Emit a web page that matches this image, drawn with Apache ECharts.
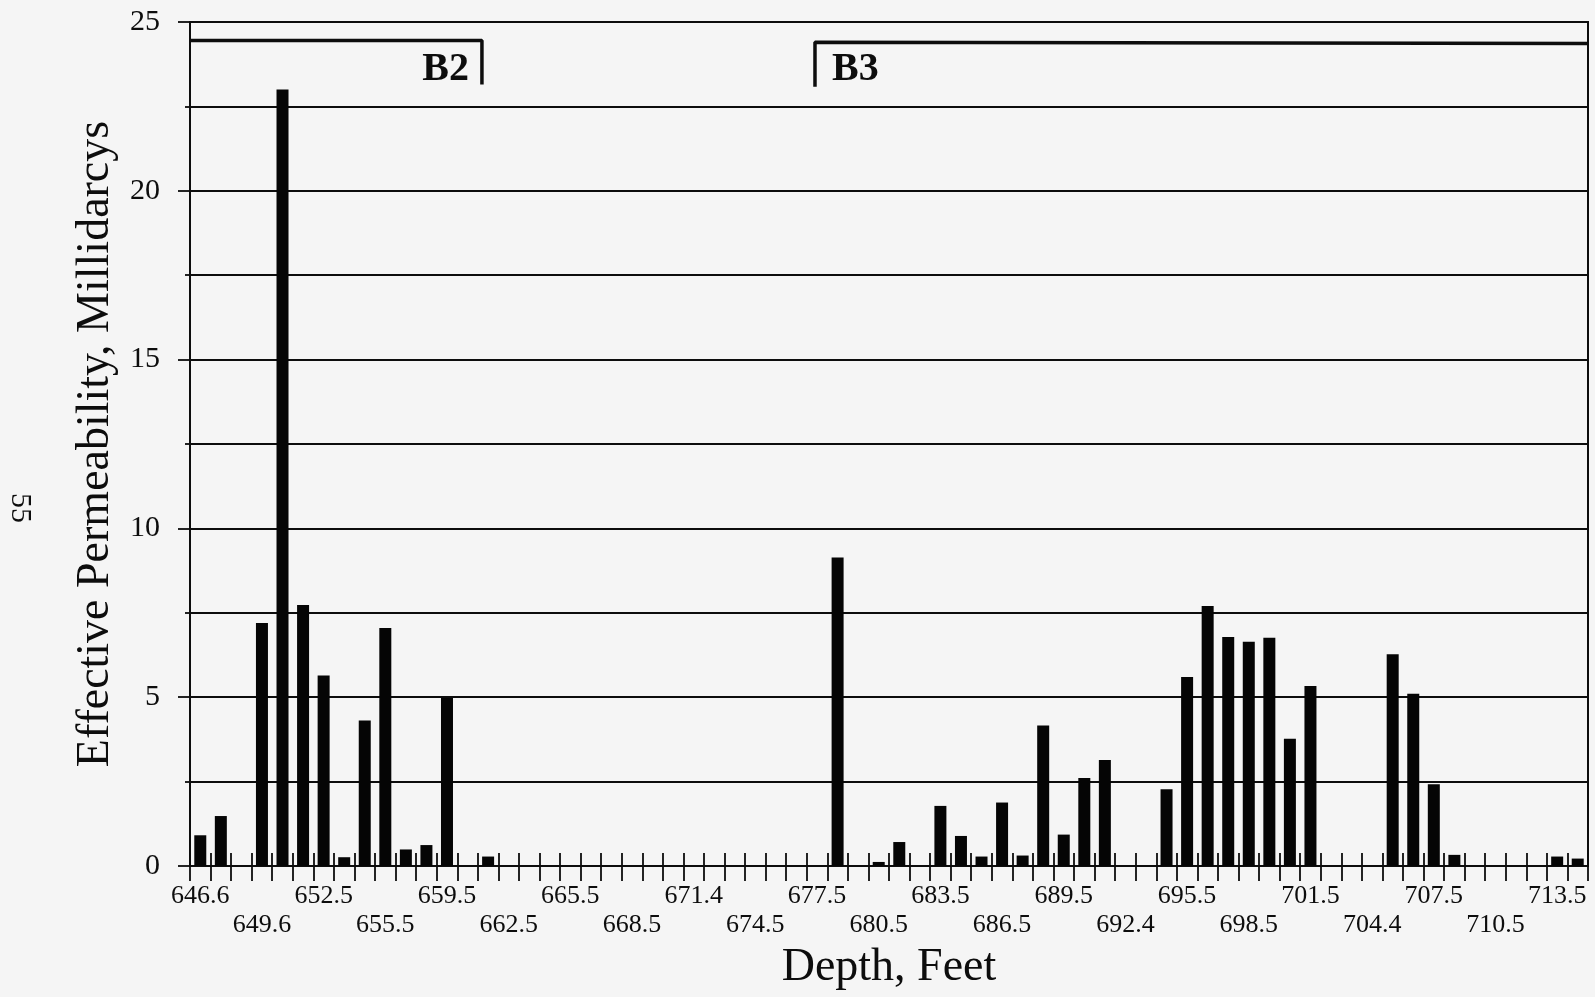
<!DOCTYPE html>
<html>
<head>
<meta charset="utf-8">
<script src="https://cdn.jsdelivr.net/npm/echarts@6/dist/echarts.min.js"></script>
<style>
  html, body { margin: 0; padding: 0; background: #f5f5f5; }
  #chart { width: 1595px; height: 997px; }
</style>
</head>
<body>
<div id="chart"></div>
<script>
// Depth (feet) printed under every third sample slot
const depthLabels = [
  '646.6', '649.6', '652.5', '655.5', '659.5', '662.5', '665.5', '668.5',
  '671.4', '674.5', '677.5', '680.5', '683.5', '686.5', '689.5', '692.4',
  '695.5', '698.5', '701.5', '704.4', '707.5', '710.5', '713.5'
];

// Effective permeability (millidarcys), one value per sample slot
const permeability = [
  0.91, 1.48, 0, 7.20, 23.0, 7.73, 5.64, 0.26, 4.31, 7.05,
  0.49, 0.62, 4.98, 0, 0.28,
  0, 0, 0, 0, 0, 0, 0, 0, 0, 0, 0, 0, 0, 0, 0, 0,
  9.14, 0, 0.12, 0.71, 0, 1.78, 0.89, 0.28, 1.88, 0.31,
  4.16, 0.93, 2.61, 3.14, 0, 0, 2.27, 5.60, 7.70, 6.78,
  6.64, 6.76, 3.77, 5.33, 0, 0, 0, 6.27, 5.10, 2.42,
  0.33, 0, 0, 0, 0, 0.28, 0.22
];

// Zone brackets along the top, in sample-slot units (null = runs past the edge)
const zones = [
  { name: 'B2', start: null, end: 14.2 },
  { name: 'B3', start: 30.4, end: null }
];

const slotIndex = permeability.map((_, i) => String(i));
const slotCount = permeability.length;

const serif = 'Liberation Serif';
const ink = '#0d0d0d';

// bracket polylines: horizontal run with a drop at the inner boundary
const bracketSeries = zones.map((z, k) => {
  const top = k === 0 ? 24.45 : 24.36;
  const drop = k === 0 ? 23.15 : 23.08;
  const pts = [];
  if (z.start === null) {
    pts.push([0, top], [z.end, top], [z.end, drop]);
  } else {
    pts.push([z.start, drop], [z.start, top + 0.04], [z.end === null ? slotCount : z.end, top]);
  }
  return {
    type: 'line',
    xAxisIndex: 2,
    data: pts,
    symbol: 'none',
    silent: true,
    lineStyle: { color: ink, width: 3.5 },
    z: 5
  };
});

const zoneLabelSeries = {
  type: 'scatter',
  xAxisIndex: 2,
  symbolSize: 0,
  silent: true,
  z: 6,
  itemStyle: { opacity: 1 },
  data: zones.map(z => ({
    name: z.name,
    value: [z.start === null ? z.end : z.start, 23.58],
    label: {
      show: true,
      formatter: '{b}',
      position: z.start === null ? 'left' : 'right',
      distance: z.start === null ? 13 : 17,
      fontFamily: serif,
      fontWeight: 'bold',
      fontSize: 40,
      color: ink
    }
  }))
};

const chart = echarts.init(document.getElementById('chart'), null, { renderer: 'canvas' });

chart.setOption({
  backgroundColor: '#f5f5f5',
  animation: false,
  grid: {
    left: 190, right: 7, top: 22, bottom: 131,
    show: true, borderColor: ink, borderWidth: 2,
    backgroundColor: 'transparent',
    outerBoundsMode: 'none'
  },
  xAxis: [
    {
      type: 'category',
      data: slotIndex,
      boundaryGap: true,
      name: 'Depth, Feet',
      nameLocation: 'middle',
      nameGap: 75,
      nameTextStyle: { fontFamily: serif, fontSize: 46, color: ink },
      axisLine: { show: true, lineStyle: { color: ink, width: 2 } },
      axisTick: { show: true, interval: 0, length: 15, lineStyle: { color: ink, width: 1.8 } },
      axisLabel: {
        interval: (i) => i % 3 === 0,
        formatter: (v, i) => {
          const k = Math.round(i / 3);
          return (k % 2 === 1 ? '\n' : '') + depthLabels[k];
        },
        fontFamily: serif,
        fontSize: 26,
        lineHeight: 29,
        margin: 16,
        color: ink
      },
      splitLine: { show: false }
    },
    {
      // upward half of the crossing slot ticks
      type: 'category',
      data: slotIndex,
      position: 'bottom',
      boundaryGap: true,
      axisLine: { show: false },
      axisTick: { show: true, inside: true, interval: 0, length: 13, lineStyle: { color: ink, width: 1.8 } },
      axisLabel: { show: false },
      splitLine: { show: false }
    },
    {
      type: 'value',
      min: 0,
      max: slotCount,
      show: false
    }
  ],
  yAxis: {
    type: 'value',
    min: 0,
    max: 25,
    interval: 5,
    name: 'Effective Permeability, Millidarcys',
    nameLocation: 'middle',
    nameGap: 70,
    nameTextStyle: { fontFamily: serif, fontSize: 46, color: ink },
    axisLine: { show: true, lineStyle: { color: ink, width: 2 } },
    axisTick: { show: true, length: 12, lineStyle: { color: ink, width: 1.8 } },
    minorTick: { show: true, splitNumber: 2, length: 5, lineStyle: { color: ink, width: 1.8 } },
    axisLabel: { fontFamily: serif, fontSize: 30, margin: 30, color: ink },
    splitLine: { show: true, lineStyle: { color: ink, width: 2 } },
    minorSplitLine: { show: true, lineStyle: { color: ink, width: 2 } }
  },
  graphic: [
    {
      type: 'text',
      x: 20,
      y: 508,
      rotation: -Math.PI / 2,
      style: {
        text: '55',
        font: '30px "Liberation Serif"',
        fill: ink,
        align: 'center',
        verticalAlign: 'middle'
      }
    }
  ],
  series: [
    {
      type: 'bar',
      xAxisIndex: 0,
      data: permeability,
      barWidth: 12,
      itemStyle: { color: '#050505' },
      z: 3
    },
    ...bracketSeries,
    zoneLabelSeries
  ]
});
</script>
</body>
</html>
